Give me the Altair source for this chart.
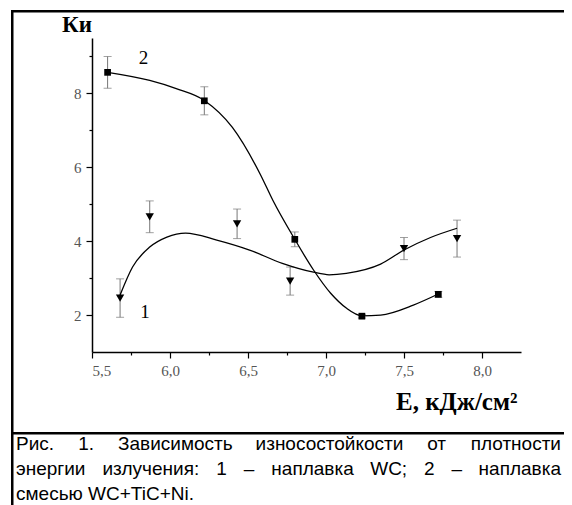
import altair as alt
import pandas as pd

# ---- data ----
# Curve 1: наплавка WC (triangles)
e1 = [5.68, 5.87, 6.43, 6.77, 7.50, 7.84]
k1 = [2.46, 4.66, 4.47, 2.92, 3.80, 4.07]
err1 = [0.52, 0.43, 0.40, 0.38, 0.30, 0.50]
fit1_e = [5.68, 5.76, 5.87, 5.98, 6.10, 6.30, 6.51, 6.72, 6.92, 7.02, 7.13, 7.35, 7.50, 7.67, 7.84]
fit1_k = [2.54, 3.30, 3.84, 4.11, 4.22, 4.03, 3.76, 3.40, 3.16, 3.09, 3.13, 3.38, 3.76, 4.10, 4.35]

# Curve 2: наплавка смесью WC+TiC+Ni (squares)
e2 = [5.60, 6.22, 6.80, 7.23, 7.72]
k2 = [8.57, 7.80, 4.05, 1.97, 2.56]
err2 = [0.43, 0.38, 0.20, 0.05, 0.08]
fit2_e = [5.60, 5.87, 6.04, 6.22, 6.40, 6.58, 6.66, 6.80, 6.92, 7.03, 7.13, 7.23, 7.35, 7.56, 7.72]
fit2_k = [8.57, 8.35, 8.13, 7.81, 7.08, 5.80, 5.10, 4.05, 3.22, 2.59, 2.19, 1.98, 2.00, 2.27, 2.57]

curve_labels = ["1", "2"]
label_e = [5.84, 5.83]
label_k = [2.08, 8.95]

x_ticks = [5.5, 5.75, 6.0, 6.25, 6.5, 6.75, 7.0, 7.25, 7.5, 7.75, 8.0]
y_ticks = [2, 3, 4, 5, 6, 7, 8, 9]

y_title = "Ки"
x_title = "E, кДж/см²"
caption_lines = [
    ["Рис.", "1.", "Зависимость", "износостойкости", "от", "плотности"],
    ["энергии", "излучения:", "1", "–", "наплавка", "WC;", "2", "–", "наплавка"],
    ["смесью WC+TiC+Ni."],
]

# ---- layout ----
W, H = 429, 314
PAD = {"left": 84, "top": 30, "right": 43, "bottom": 153}
OX, OY = 92, 38            # page position of the plot area's top-left corner
CAP_FONT = 19
CAP_LEFT, CAP_RIGHT = 16, 561
caption_y = [444, 469, 494]
justify = [True, True, False]

# approximate Arial advance widths (per 1000 em) for justification
_w = {" ": 278, ".": 278, ";": 278, ":": 278, "1": 556, "2": 556, "–": 556, "+": 584,
      "W": 944, "C": 722, "T": 611, "i": 222, "N": 722, "Р": 667, "З": 542,
      "а": 556, "в": 531, "г": 365, "е": 556, "з": 458, "и": 559, "й": 559, "к": 438,
      "л": 583, "м": 688, "н": 552, "о": 556, "п": 542, "р": 556, "с": 500, "т": 458,
      "у": 500, "ч": 521, "ь": 521, "э": 510, "ю": 750, "я": 542}


def text_w(s):
    return sum(_w.get(c, 556) for c in s) * CAP_FONT / 1000.0


d1 = pd.DataFrame({"E": e1, "K": k1, "err": err1})
d2 = pd.DataFrame({"E": e2, "K": k2, "err": err2})
f1 = pd.DataFrame({"E": fit1_e, "K": fit1_k})
f2 = pd.DataFrame({"E": fit2_e, "K": fit2_k})
lab = pd.DataFrame({"E": label_e, "K": label_k, "t": curve_labels})

xs = alt.Scale(domain=[5.5, 8.25], nice=False, zero=False)
ys = alt.Scale(domain=[1, 9.5], nice=False, zero=False)

major_x = "abs(datum.value*2 - round(datum.value*2)) < 0.01"
x_axis = alt.Axis(
    values=x_ticks, title="", grid=False,
    labelExpr=f"{major_x} ? replace(format(datum.value, '.1f'), '.', ',') : ''",
    tickSize={"condition": {"test": major_x, "value": 6}, "value": 3},
    labelPadding=5,
)
y_axis = alt.Axis(
    values=y_ticks, title="", grid=False, format="d",
    labelExpr="datum.value % 2 === 0 ? datum.label : ''",
    tickSize={"condition": {"test": "datum.value % 2 === 0", "value": 6}, "value": 3},
    labelPadding=5,
)

X = alt.X("E:Q", scale=xs, axis=x_axis)
Y = alt.Y("K:Q", scale=ys, axis=y_axis)


def errbars(df):
    base = alt.Chart(df).transform_calculate(lo="datum.K - datum.err", hi="datum.K + datum.err")
    rule = base.mark_rule(color="#777777", strokeWidth=1).encode(
        x=alt.X("E:Q", scale=xs), y=alt.Y("lo:Q", scale=ys), y2="hi:Q")
    cap_lo = base.mark_tick(color="#777777", orient="horizontal", size=8, thickness=1).encode(
        x=alt.X("E:Q", scale=xs), y=alt.Y("lo:Q", scale=ys))
    cap_hi = base.mark_tick(color="#777777", orient="horizontal", size=8, thickness=1).encode(
        x=alt.X("E:Q", scale=xs), y=alt.Y("hi:Q", scale=ys))
    return [rule, cap_lo, cap_hi]


line1 = alt.Chart(f1).mark_line(color="black", strokeWidth=1.3, interpolate="monotone").encode(x=X, y=Y)
line2 = alt.Chart(f2).mark_line(color="black", strokeWidth=1.3, interpolate="monotone").encode(x=X, y=Y)
pts1 = alt.Chart(d1).mark_point(shape="triangle-down", filled=True, size=70, color="black", opacity=1).encode(x=X, y=Y)
pts2 = alt.Chart(d2).mark_point(shape="square", filled=True, size=45, color="black", opacity=1).encode(x=X, y=Y)
labels = alt.Chart(lab).mark_text(font="Liberation Serif", fontSize=19, color="black").encode(x=X, y=Y, text="t:N")

one = pd.DataFrame({"a": [0]})
deco = []
# axis titles
deco.append(alt.Chart(one).mark_text(font="Liberation Serif", fontSize=23, fontWeight="bold",
                                      color="black", baseline="middle", align="center").encode(
    x=alt.value(77 - OX), y=alt.value(25 - OY), text=alt.value(y_title)))
deco.append(alt.Chart(one).mark_text(font="Liberation Serif", fontSize=25, fontWeight="bold",
                                      color="black", baseline="alphabetic", align="left").encode(
    x=alt.value(396 - OX), y=alt.value(410 - OY), text=alt.value(x_title)))
# frame: left edge, top edge (in two pieces), divider above the caption
deco.append(alt.Chart(one).mark_rect(color="black").encode(
    x=alt.value(11 - OX), x2=alt.value(13.5 - OX), y=alt.value(10 - OY), y2=alt.value(510 - OY)))
for (xa, xb) in [(11, 290), (290, 564)]:
    deco.append(alt.Chart(one).mark_rect(color="black").encode(
        x=alt.value(xa - OX), x2=alt.value(xb - OX), y=alt.value(10 - OY), y2=alt.value(12.5 - OY)))
deco.append(alt.Chart(one).mark_rect(color="black").encode(
    x=alt.value(11 - OX), x2=alt.value(575 - OX), y=alt.value(432 - OY), y2=alt.value(434.5 - OY)))

# caption (justified lines)
for words, yy, just in zip(caption_lines, caption_y, justify):
    widths = [text_w(w) for w in words]
    if just and len(words) > 1:
        gap = (CAP_RIGHT - CAP_LEFT - sum(widths)) / (len(words) - 1)
    else:
        gap = text_w(" ")
    xpos = CAP_LEFT
    for i, (w, ww) in enumerate(zip(words, widths)):
        last = just and i == len(words) - 1
        deco.append(alt.Chart(one).mark_text(font="Liberation Sans", fontSize=CAP_FONT, color="black",
                                              baseline="middle", align="right" if last else "left").encode(
            x=alt.value((CAP_RIGHT if last else xpos) - OX), y=alt.value(yy - OY), text=alt.value(w)))
        xpos += ww + gap

layers = errbars(d1) + errbars(d2) + [line1, line2, pts1, pts2, labels] + deco

chart = alt.layer(*layers).properties(
    width=W, height=H, padding=PAD,
    autosize=alt.AutoSizeParams(type="none"),
    background="white",
).configure_view(strokeWidth=0).configure_axis(
    domainColor="black", domainWidth=1.5, tickColor="black", tickWidth=1.2,
    labelColor="#555555", labelFont="Liberation Serif", labelFontSize=15,
)

chart.save("out.html", embed_options={"renderer": "svg", "actions": False})
